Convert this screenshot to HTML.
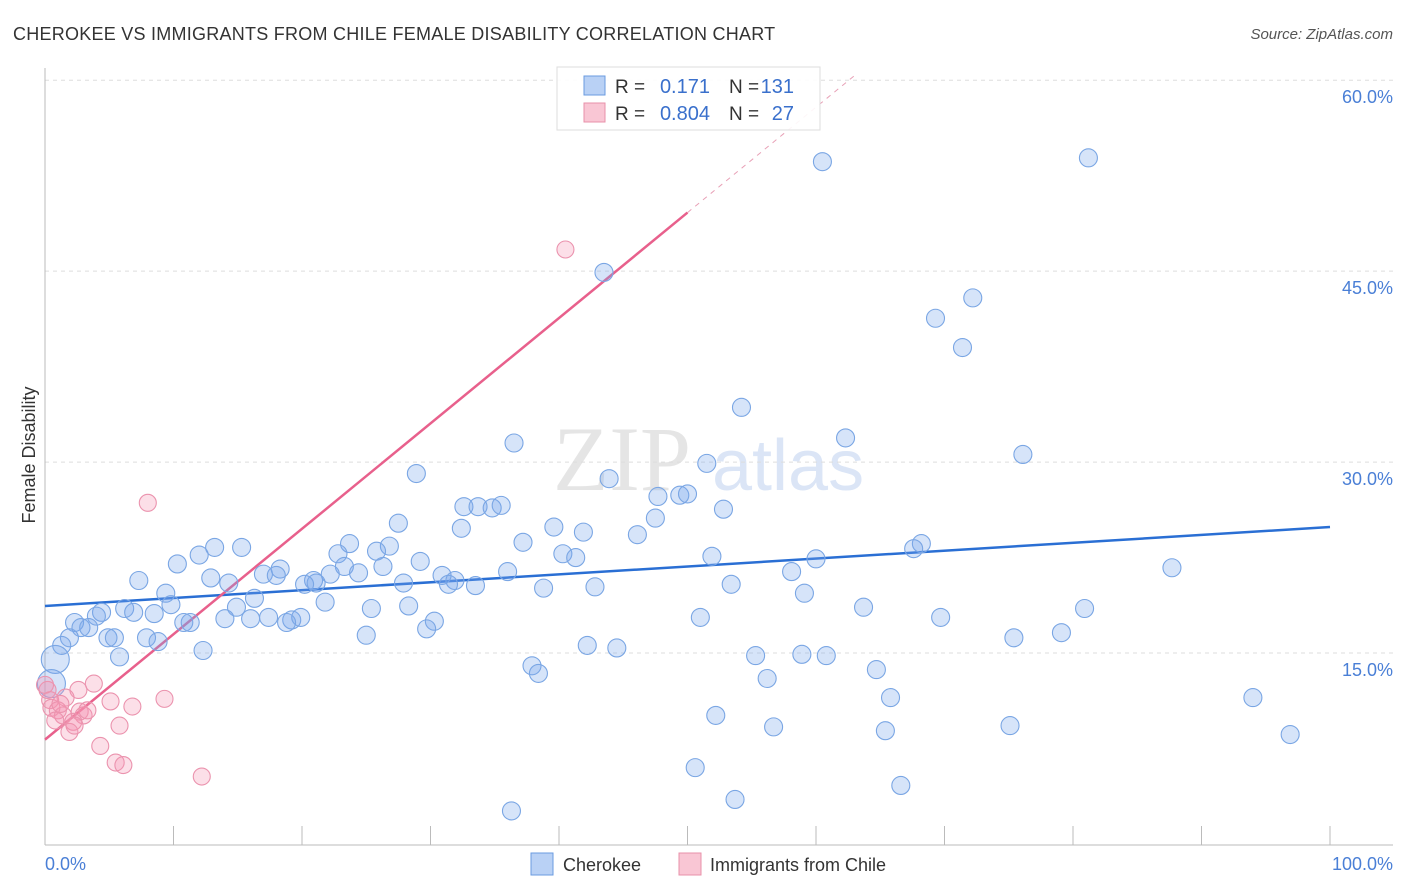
<!DOCTYPE html>
<html><head><meta charset="utf-8">
<style>
body{margin:0;background:#fff;font-family:"Liberation Sans",sans-serif;}
#wrap{position:relative;width:1406px;height:892px;overflow:hidden;}
</style></head>
<body>
<div id="wrap">
<svg id="chart" width="1406" height="892" xmlns="http://www.w3.org/2000/svg">
<text x="13" y="40" font-size="18" fill="#333" letter-spacing="0.25">CHEROKEE VS IMMIGRANTS FROM CHILE FEMALE DISABILITY CORRELATION CHART</text>
<text x="1393" y="39" font-size="15" fill="#555" font-style="italic" text-anchor="end">Source: ZipAtlas.com</text>
<g opacity="0.5">
<text x="553" y="490" font-size="92" font-family="Liberation Serif, serif" fill="#ccc">ZIP</text>
<text x="712" y="490" font-size="72" fill="#b8cdee">atlas</text>
</g>
<g id="grid"></g>
<g id="axes"></g>
<g id="trend"></g>
<g id="pts"></g>
<text x="35" y="455" font-size="18" fill="#333" text-anchor="middle" transform="rotate(-90 35 455)">Female Disability</text>
<text x="45" y="870" font-size="18" fill="#4a7fd6">0.0%</text>
<text x="1393" y="870" font-size="18" fill="#4a7fd6" text-anchor="end">100.0%</text>
<g>
<rect x="531" y="853" width="22" height="22" fill="#b9d1f5" stroke="#6a9be0"/>
<text x="563" y="871" font-size="18" fill="#333">Cherokee</text>
<rect x="679" y="853" width="22" height="22" fill="#f9c6d4" stroke="#e890aa"/>
<text x="710" y="871" font-size="18" fill="#333">Immigrants from Chile</text>
</g>
<g>
<rect x="557" y="67" width="263" height="63" fill="#fff" fill-opacity="0.9" stroke="#ddd"/>
<rect x="584" y="76" width="21" height="19" fill="#b9d1f5" stroke="#6a9be0"/>
<rect x="584" y="103" width="21" height="19" fill="#f9c6d4" stroke="#e890aa"/>
<text x="615" y="93" font-size="19" fill="#333">R =</text>
<text x="710" y="93" font-size="20" fill="#3a70cc" text-anchor="end">0.171</text>
<text x="729" y="93" font-size="19" fill="#333">N =</text>
<text x="794" y="93" font-size="20" fill="#3a70cc" text-anchor="end">131</text>
<text x="615" y="120" font-size="19" fill="#333">R =</text>
<text x="710" y="120" font-size="20" fill="#3a70cc" text-anchor="end">0.804</text>
<text x="729" y="120" font-size="19" fill="#333">N =</text>
<text x="794" y="120" font-size="20" fill="#3a70cc" text-anchor="end">27</text>
</g>
</svg>
</div>
<script>
const yTicks=[15,30,45,60];
const yTickLabels=["15.0%","30.0%","45.0%","60.0%"];
const xTicks=[0,10,20,30,40,50,60,70,80,90,100];
const cherokeeX=[60.5,81.2,43.5,72.2,69.3,71.4,54.2,36.5,62.3,76.1,51.5,28.9,43.9,47.7,49.4,50.0,32.6,33.7,34.8,35.5,52.8,47.5,32.4,27.5,39.6,41.9,46.1,37.2,23.7,26.8,25.8,22.8,13.2,15.3,12.0,68.2,67.6,51.9,60.0,40.3,41.3,29.2,10.3,23.3,26.3,87.7,58.1,36.0,18.3,17.0,18.0,24.4,22.2,30.9,7.3,12.9,14.3,20.9,21.1,20.2,27.9,31.9,31.4,33.5,53.4,38.8,42.8,9.4,16.3,59.1,21.8,9.8,14.9,28.3,25.4,63.7,80.9,6.2,4.4,6.9,8.5,4.0,14.0,16.0,17.4,19.2,19.9,18.8,51.0,69.7,10.8,11.3,30.3,2.3,2.8,3.4,29.7,25.0,4.9,5.4,7.9,8.8,1.9,75.4,79.1,1.3,42.2,44.5,12.3,5.8,55.3,58.9,60.8,0.8,37.9,38.4,64.7,56.2,0.5,65.8,94.0,52.2,56.7,75.1,65.4,96.9,50.6,53.7,66.6,36.3];
const cherokeeY=[53.6,53.9,44.9,42.9,41.3,39.0,34.3,31.5,31.9,30.6,29.9,29.1,28.7,27.3,27.4,27.5,26.5,26.5,26.4,26.6,26.3,25.6,24.8,25.2,24.9,24.5,24.3,23.7,23.6,23.4,23.0,22.8,23.3,23.3,22.7,23.6,23.2,22.6,22.4,22.8,22.5,22.2,22.0,21.8,21.8,21.7,21.4,21.4,21.6,21.2,21.1,21.3,21.2,21.1,20.7,20.9,20.5,20.7,20.5,20.4,20.5,20.7,20.4,20.3,20.4,20.1,20.2,19.7,19.3,19.7,19.0,18.8,18.6,18.7,18.5,18.6,18.5,18.5,18.2,18.2,18.1,17.9,17.7,17.7,17.8,17.6,17.8,17.4,17.8,17.8,17.4,17.4,17.5,17.4,17.0,17.0,16.9,16.4,16.2,16.2,16.2,15.9,16.2,16.2,16.6,15.6,15.6,15.4,15.2,14.7,14.8,14.9,14.8,14.5,14.0,13.4,13.7,13.0,12.6,11.5,11.5,10.1,9.2,9.3,8.9,8.6,6.0,3.5,4.6,2.6];
const chileX=[40.5,8.0,3.8,2.6,1.6,5.1,9.3,6.8,0.4,0.2,0.5,1.0,1.4,2.7,3.0,2.2,1.9,2.3,5.8,4.3,5.5,6.1,12.2,1.2,0.0,3.3,0.8];
const chileY=[46.7,26.8,12.6,12.1,11.5,11.2,11.4,10.8,11.3,12.1,10.7,10.5,10.1,10.4,10.1,9.6,8.8,9.3,9.3,7.7,6.4,6.2,5.3,11.0,12.5,10.5,9.7];
const blueTrend=[18.7,24.9];
const pinkTrend=[8.2,0.828];

const X0=45,X1=1330,Y0=844,PX_PER=12.73;
function sx(v){return X0+(X1-X0)*v/100;}
function sy(v){return Y0-v*PX_PER;}
const NS="http://www.w3.org/2000/svg";
function mk(tag,attrs,parent){const e=document.createElementNS(NS,tag);for(const k in attrs)e.setAttribute(k,attrs[k]);parent.appendChild(e);return e;}
const grid=document.getElementById('grid'),axes=document.getElementById('axes'),trend=document.getElementById('trend'),pts=document.getElementById('pts');
yTicks.forEach((t,i)=>{
 const l=mk('line',{x1:45,x2:1393,y1:sy(t),y2:sy(t),stroke:'#ddd','stroke-dasharray':'4,4'},grid);
 
 
 const tx=mk('text',{x:1393,y:sy(t)+23,'font-size':18,fill:'#4a7fd6','text-anchor':'end'},grid);
 tx.textContent=yTickLabels[i];
 
 
});
const ax=mk('line',{x1:45,x2:45,y1:68,y2:845,stroke:'#bbb'},axes);


const bx=mk('line',{x1:45,x2:1393,y1:845,y2:845,stroke:'#bbb'},axes);


xTicks.forEach(t=>{
 const l=mk('line',{x1:sx(t),x2:sx(t),y1:826,y2:845,stroke:'#bbb'},axes);
 
 
});
const bt=mk('line',{x1:sx(0),y1:sy(blueTrend[0]),x2:sx(100),y2:sy(blueTrend[1]),stroke:'#2a6fd4','stroke-width':2.5},trend);


const pEnd=50,pMax=(60-pinkTrend[0])/pinkTrend[1];
const pt=mk('line',{x1:sx(0),y1:sy(pinkTrend[0]),x2:sx(pEnd),y2:sy(pinkTrend[0]+pinkTrend[1]*pEnd),stroke:'#e8608c','stroke-width':2.5},trend);


const pd=mk('line',{x1:sx(pEnd),y1:sy(pinkTrend[0]+pinkTrend[1]*pEnd),x2:sx(pMax+0.5),y2:sy(pinkTrend[0]+pinkTrend[1]*(pMax+0.5)),stroke:'#e8a0b6','stroke-width':1,'stroke-dasharray':'5,5'},trend);


cherokeeX.forEach((x,i)=>{
 const r=(x<1&&cherokeeY[i]<15)?14:9;
 const c=mk('circle',{cx:sx(x),cy:sy(cherokeeY[i]),r:r,fill:'rgba(120,165,235,0.3)',stroke:'#7aa6e4','stroke-width':1.1},pts);
 
 
});
chileX.forEach((x,i)=>{
 const c=mk('circle',{cx:sx(x),cy:sy(chileY[i]),r:8.5,fill:'rgba(245,150,180,0.3)',stroke:'#eb93ae','stroke-width':1.1},pts);
 
 
});
</script>
</body></html>
